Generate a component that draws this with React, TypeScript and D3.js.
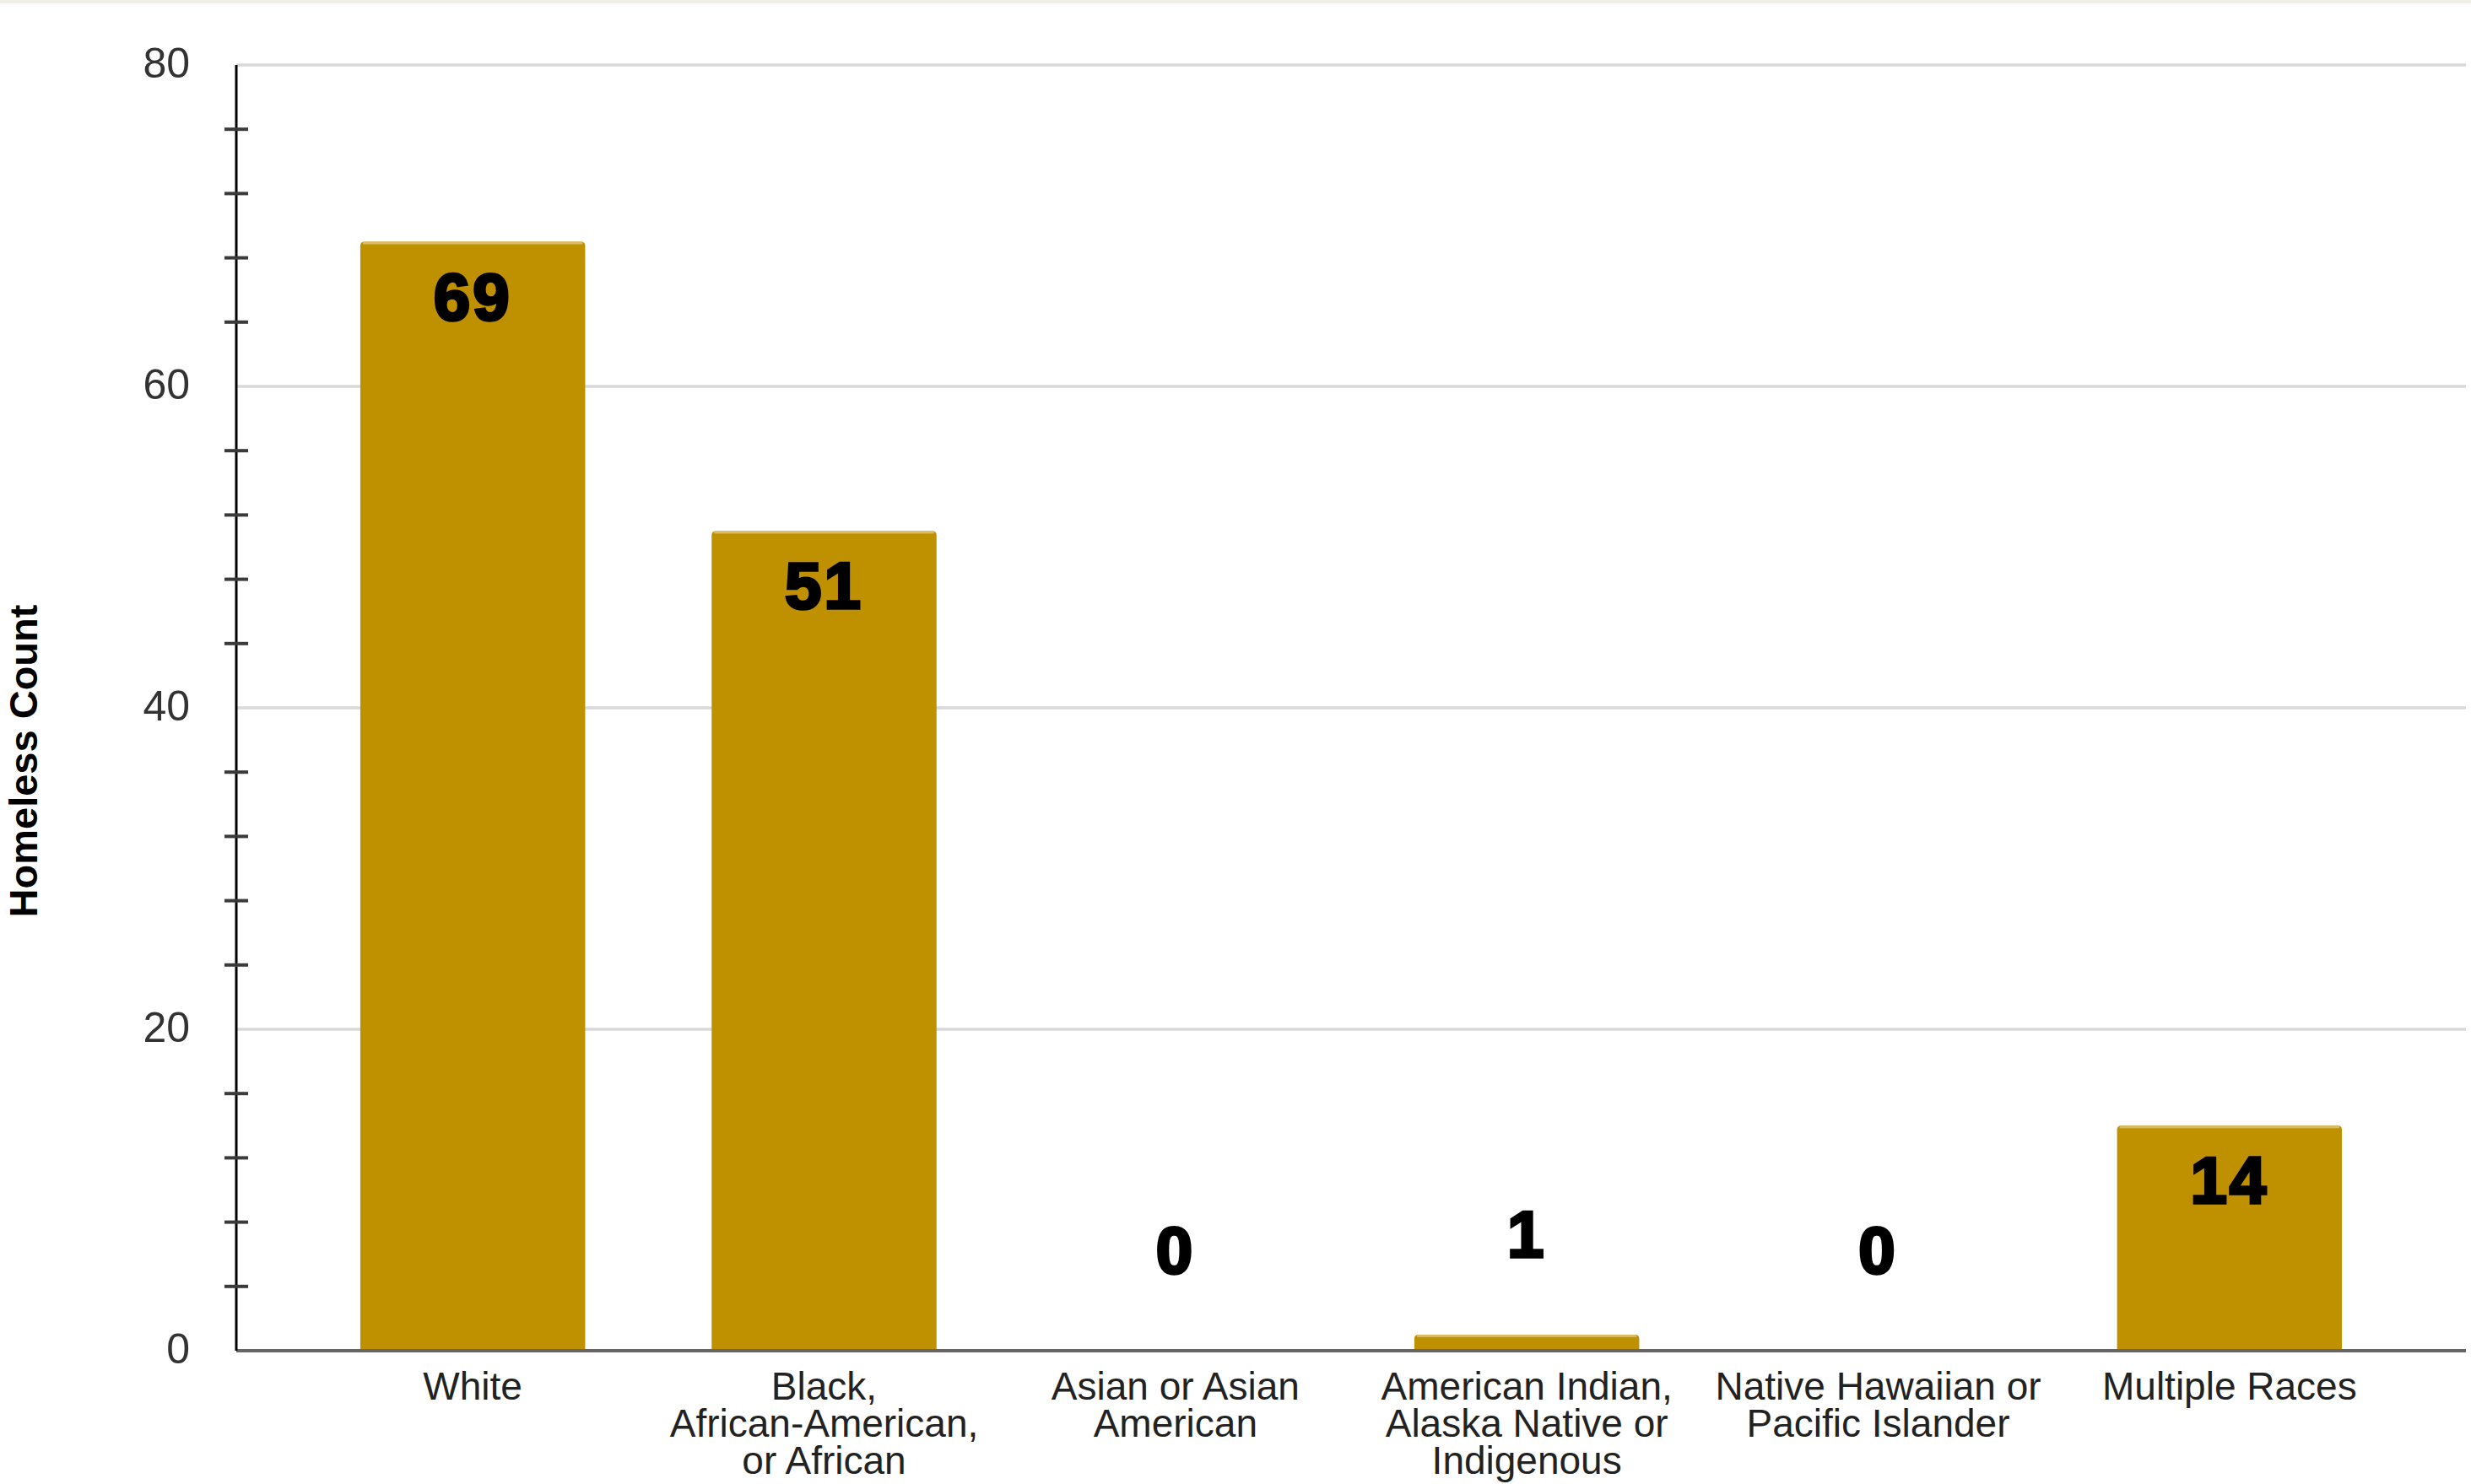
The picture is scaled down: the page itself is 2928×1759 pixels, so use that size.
import React, { useEffect, useRef } from "react";
import * as d3 from "d3";

const categories = [
  "White",
  "Black, African-American, or African",
  "Asian or Asian American",
  "American Indian, Alaska Native or Indigenous",
  "Native Hawaiian or Pacific Islander",
  "Multiple Races",
];
const categoryLines = [
  ["White"],
  ["Black,", "African-American,", "or African"],
  ["Asian or Asian", "American"],
  ["American Indian,", "Alaska Native or", "Indigenous"],
  ["Native Hawaiian or", "Pacific Islander"],
  ["Multiple Races"],
];
const values = [69, 51, 0, 1, 0, 14];
const yMajorTicks = [0, 20, 40, 60, 80];
const yMinorTicks = [4, 8, 12, 16, 24, 28, 32, 36, 44, 48, 52, 56, 64, 68, 72, 76];
const yTitle = "Homeless Count";

const W = 2928;
const H = 1759;
const FONT = "'Liberation Sans', Arial, Helvetica, sans-serif";
const BAR = "#bf9000";

export default function App() {
  const ref = useRef<SVGSVGElement | null>(null);

  useEffect(() => {
    document.body.style.margin = "0";
    const svg = d3.select(ref.current);
    svg.selectAll("*").remove();

    const axisX = 280;
    const rightX = 2922;
    const y = d3.scaleLinear().domain([0, 80]).range([1601, 77]);
    const x = d3
      .scaleBand<string>()
      .domain(categories)
      .range([352, 2850])
      .paddingInner(0.36)
      .paddingOuter(0.18);

    svg.append("rect").attr("x", 0).attr("y", 0).attr("width", W).attr("height", H).attr("fill", "#ffffff");
    svg.append("rect").attr("x", 0).attr("y", 0).attr("width", W).attr("height", 4).attr("fill", "#efefe6");

    // gridlines
    svg
      .append("g")
      .selectAll("line")
      .data(yMajorTicks.filter((d) => d > 0))
      .join("line")
      .attr("x1", axisX)
      .attr("x2", rightX)
      .attr("y1", (d) => y(d))
      .attr("y2", (d) => y(d))
      .attr("stroke", "#d9d9d9")
      .attr("stroke-width", 3.5);

    // bars
    const rr = 5;
    const barG = svg.append("g");
    values.forEach((v, i) => {
      if (v <= 0) return;
      const x0 = x(categories[i])!;
      const w = x.bandwidth();
      const top = y(v);
      const bottom = y(0);
      const p = d3.path();
      p.moveTo(x0, bottom);
      p.lineTo(x0, top + rr);
      p.quadraticCurveTo(x0, top, x0 + rr, top);
      p.lineTo(x0 + w - rr, top);
      p.quadraticCurveTo(x0 + w, top, x0 + w, top + rr);
      p.lineTo(x0 + w, bottom);
      p.closePath();
      barG.append("path").attr("d", p.toString()).attr("fill", BAR);
      barG
        .append("rect")
        .attr("x", x0 + 3)
        .attr("y", top)
        .attr("width", w - 6)
        .attr("height", 3)
        .attr("fill", "#d9bc63");
    });

    // baseline
    svg
      .append("line")
      .attr("x1", axisX)
      .attr("x2", rightX)
      .attr("y1", y(0))
      .attr("y2", y(0))
      .attr("stroke", "#666666")
      .attr("stroke-width", 4);

    // y axis line
    svg
      .append("line")
      .attr("x1", axisX)
      .attr("x2", axisX)
      .attr("y1", y(80))
      .attr("y2", y(0))
      .attr("stroke", "#000000")
      .attr("stroke-width", 3);

    // minor ticks
    svg
      .append("g")
      .selectAll("line")
      .data(yMinorTicks)
      .join("line")
      .attr("x1", axisX - 14)
      .attr("x2", axisX + 14)
      .attr("y1", (d) => y(d))
      .attr("y2", (d) => y(d))
      .attr("stroke", "#3a3a3a")
      .attr("stroke-width", 4);

    // y tick labels
    svg
      .append("g")
      .selectAll("text")
      .data(yMajorTicks)
      .join("text")
      .attr("x", 225)
      .attr("y", (d) => y(d) - 3)
      .attr("dy", "0.35em")
      .attr("text-anchor", "end")
      .attr("font-family", FONT)
      .attr("font-size", 50)
      .attr("fill", "#333333")
      .text((d) => String(d));

    // category labels
    const catG = svg.append("g");
    categoryLines.forEach((lines, i) => {
      const cx = x(categories[i])! + x.bandwidth() / 2;
      const t = catG
        .append("text")
        .attr("text-anchor", "middle")
        .attr("font-family", FONT)
        .attr("font-size", 46)
        .attr("fill", "#222222");
      lines.forEach((ln, j) => {
        t.append("tspan")
          .attr("x", cx)
          .attr("y", 1659 + j * 44)
          .text(ln);
      });
    });

    // value labels
    svg
      .append("g")
      .selectAll("text")
      .data(values)
      .join("text")
      .attr("x", (d, i) => x(categories[i])! + x.bandwidth() / 2)
      .attr("y", (d) => {
        const top = y(d);
        return y(0) - top > 150 ? top + 92 : top - 92;
      })
      .attr("text-anchor", "middle")
      .attr("font-family", FONT)
      .attr("font-weight", 700)
      .attr("font-size", 78)
      .attr("letter-spacing", 3)
      .attr("fill", "#000000")
      .attr("stroke", "#000000")
      .attr("stroke-width", 3.5)
      .text((d) => String(d));

    // y title
    svg
      .append("text")
      .attr("transform", `translate(44, ${902}) rotate(-90)`)
      .attr("text-anchor", "middle")
      .attr("font-family", FONT)
      .attr("font-weight", 700)
      .attr("font-size", 47)
      .attr("fill", "#000000")
      .text(yTitle);
  }, []);

  return <svg ref={ref} width={W} height={H} style={{ display: "block" }} />;
}
